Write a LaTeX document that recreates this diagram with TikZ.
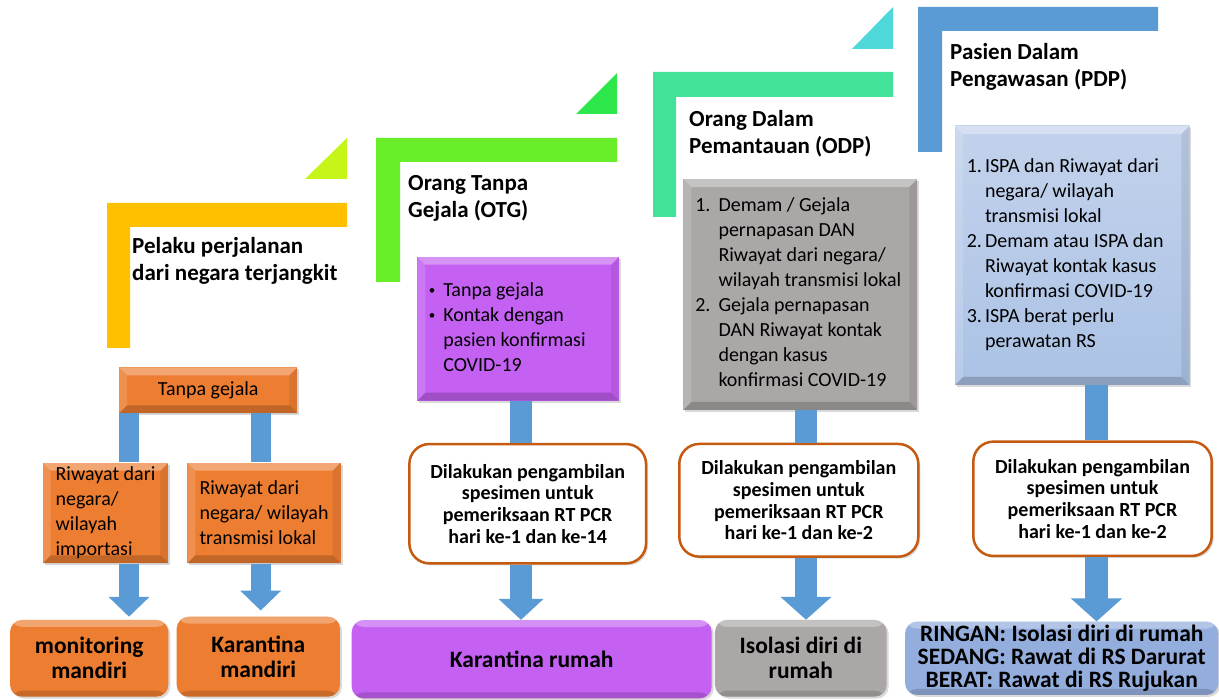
\documentclass[tikz,border=0pt]{standalone}
\usepackage{fontspec}
\setmainfont{Carlito}
\usetikzlibrary{arrows.meta,shadows}
\definecolor{cS1}{RGB}{255,192,0}
\definecolor{cT1}{RGB}{198,245,26}
\definecolor{cS2}{RGB}{104,238,40}
\definecolor{cT2}{RGB}{46,232,75}
\definecolor{cS3}{RGB}{67,226,155}
\definecolor{cT3}{RGB}{78,216,218}
\definecolor{cBl}{RGB}{91,155,213}
\definecolor{cOr}{RGB}{237,125,49}
\definecolor{cPu}{RGB}{196,96,242}
\definecolor{cGr}{RGB}{171,167,167}
\definecolor{cLb}{RGB}{180,199,231}
\definecolor{cDb}{RGB}{147,173,221}
\definecolor{cBr}{RGB}{197,90,17}
\newcommand{\smbul}{\raisebox{1.5pt}{\fontsize{13}{13}\selectfont\textbullet}}
\tikzset{
  bevel/.style={path picture={
    \fill[white,opacity=.32] (path picture bounding box.north west) -- (path picture bounding box.north east) -- ([shift={(-8,8)}]path picture bounding box.north east) -- ([shift={(8,8)}]path picture bounding box.north west) -- cycle;
    \fill[white,opacity=.15] (path picture bounding box.north west) -- ([shift={(8,8)}]path picture bounding box.north west) -- ([shift={(8,-8)}]path picture bounding box.south west) -- (path picture bounding box.south west) -- cycle;
    \fill[black,opacity=.08] (path picture bounding box.north east) -- ([shift={(-8,8)}]path picture bounding box.north east) -- ([shift={(-8,-8)}]path picture bounding box.south east) -- (path picture bounding box.south east) -- cycle;
    \fill[black,opacity=.18] (path picture bounding box.south west) -- (path picture bounding box.south east) -- ([shift={(-8,-8)}]path picture bounding box.south east) -- ([shift={(8,-8)}]path picture bounding box.south west) -- cycle;
  }},
  softbevel/.style={path picture={
    \fill[white,opacity=.30] (path picture bounding box.north west) rectangle ([shift={(0,7)}]path picture bounding box.north east);
    \fill[black,opacity=.15] ([shift={(0,-6)}]path picture bounding box.south west) rectangle (path picture bounding box.south east);
  }},
  shd/.style={drop shadow={opacity=.3,shadow xshift=2pt,shadow yshift=-2pt}},
  hd/.style={font=\bfseries\fontsize{23}{27}\selectfont, align=left, anchor=west, inner sep=0pt},
  bx/.style={shd, bevel, inner sep=0pt, align=left, font=\fontsize{20}{25}\selectfont},
  rbx/.style={shd, draw=cBr, line width=2.5pt, fill=white, rounded corners=20pt, inner sep=0pt, align=center, font=\bfseries\fontsize{20}{21.7}\selectfont},
  res/.style={shd, softbevel, rounded corners=12pt, inner sep=0pt, align=center, font=\bfseries\fontsize{23.5}{25}\selectfont},
  shaft/.style={draw=cBl, line width=#1},
  arr/.style n args={3}{draw=cBl, line width=#1, -{Triangle[width=#2,length=#3]}},
}
\begin{document}
\begin{tikzpicture}[x=1pt,y=-1pt]
\useasboundingbox (0,0) rectangle (1219,700);
% steps
\fill[cS1] (107,203) -- (347,203) -- (347,227) -- (130,227) -- (130,348) -- (107,348) -- cycle;
\fill[cT1] (347,138) -- (347,179) -- (305,179) -- cycle;
\fill[cS2] (376,138) -- (617,138) -- (617,162) -- (400,162) -- (400,282) -- (376,282) -- cycle;
\fill[cT2] (617,73) -- (617,114) -- (576,114) -- cycle;
\fill[cS3] (653,72) -- (893,72) -- (893,97) -- (676,97) -- (676,217) -- (653,217) -- cycle;
\fill[cT3] (893,7) -- (893,49) -- (852,49) -- cycle;
\fill[cBl] (918,7) -- (1158,7) -- (1158,31) -- (942,31) -- (942,152) -- (918,152) -- cycle;
% titles
\node[hd] (t1) at (132,260.5) {Pelaku perjalanan\\dari negara terjangkit};
\node[hd] (t2) at (408,198.5) {Orang Tanpa\\Gejala (OTG)};
\node[hd] (t3) at (689,133.5) {Orang Dalam\\Pemantauan (ODP)};
\node[hd] (t4) at (950,66.5) {Pasien Dalam\\Pengawasan (PDP)};
% column 1
\node[bx, fill=cOr, minimum width=178.3pt, minimum height=46pt] (tg) at (208.2,390.3) {Tanpa gejala};
\node[bx, fill=cOr, minimum width=125.6pt, minimum height=100.6pt] (r1) at (105.5,513) {Riwayat dari\\negara/\\wilayah\\importasi};
\node[bx, fill=cOr, minimum width=153.4pt, minimum height=100.6pt] (r2) at (264,513) {Riwayat dari\\negara/ wilayah\\transmisi lokal};
\node[res, fill=cOr, minimum width=158.3pt, minimum height=76.7pt] (mm) at (89.2,658.3) {monitoring\\mandiri};
\node[res, fill=cOr, minimum width=163.3pt, minimum height=80pt] (km) at (258.3,656.7) {Karantina\\mandiri};
\coordinate (c1a) at (129,0);
\coordinate (c1b) at (260.7,0);
\draw[shaft=20pt] (tg.south -| c1a) -- (r1.north -| c1a);
\draw[shaft=20pt] (tg.south -| c1b) -- (r2.north -| c1b);
\draw[arr={20pt}{40pt}{20pt}] (r1.south -| c1a) -- ([yshift=3pt]mm.north -| c1a);
\draw[arr={20pt}{40pt}{20pt}] (r2.south -| c1b) -- ([yshift=6pt]km.north -| c1b);
% column 2
\node[bx, fill=cPu, minimum width=201.7pt, minimum height=144pt] (otg) at (518.2,328.7)
  {\begin{tabular}{@{}l@{\hspace{8pt}}l@{}}\smbul&Tanpa gejala\\\smbul&Kontak dengan\\&pasien konfirmasi\\&COVID-19\end{tabular}\hspace{22pt}};
\node[rbx, minimum width=236.7pt, minimum height=119.3pt] (d2) at (527.7,503.7)
  {Dilakukan pengambilan\\spesimen untuk\\pemeriksaan RT PCR\\hari ke-1 dan ke-14};
\node[res, fill=cPu, minimum width=360pt, minimum height=78.3pt] (kr) at (531.7,659.2) {Karantina rumah};
\coordinate (c2) at (521,0);
\draw[shaft=21.7pt] (otg.south -| c2) -- (d2.north -| c2);
\draw[arr={21.7pt}{44pt}{21pt}] (d2.south -| c2) -- (kr.north -| c2);
% column 3
\node[bx, fill=cGr, minimum width=234pt, minimum height=231pt] (odp) at (800.3,294.5)
  {\begin{tabular}{@{}l@{\hspace{8pt}}l@{}}1.&Demam / Gejala\\&pernapasan DAN\\&Riwayat dari negara/\\&wilayah transmisi lokal\\2.&Gejala pernapasan\\&DAN Riwayat kontak\\&dengan kasus\\&konfirmasi COVID-19\end{tabular}\hspace{4pt}};
\node[rbx, minimum width=239pt, minimum height=112.7pt] (d3) at (798.8,500.3)
  {Dilakukan pengambilan\\spesimen untuk\\pemeriksaan RT PCR\\hari ke-1 dan ke-2};
\node[res, fill=cGr, minimum width=171.7pt, minimum height=76.7pt] (iso) at (800.8,658.3) {Isolasi diri di\\rumah};
\coordinate (c3) at (806,0);
\draw[shaft=22pt] (odp.south -| c3) -- (d3.north -| c3);
\draw[arr={22pt}{50pt}{23pt}] (d3.south -| c3) -- (iso.north -| c3);
% column 4
\node[bx, top color=cLb!80!white, bottom color=cLb!90!cBl, minimum width=234.3pt, minimum height=259pt] (pdp) at (1072.2,255.5)
  {\begin{tabular}{@{}l@{\hspace{3pt}}l@{}}1.&ISPA dan Riwayat dari\\&negara/ wilayah\\&transmisi lokal\\2.&Demam atau ISPA dan\\&Riwayat kontak kasus\\&konfirmasi COVID-19\\3.&ISPA berat perlu\\&perawatan RS\end{tabular}\hspace{14pt}};
\node[rbx, minimum width=238.4pt, minimum height=114.3pt] (d4) at (1092.5,498.8)
  {Dilakukan pengambilan\\spesimen untuk\\pemeriksaan RT PCR\\hari ke-1 dan ke-2};
\node[res, fill=cDb, font=\bfseries\fontsize{23.5}{23.3}\selectfont, minimum width=313.3pt, minimum height=73.3pt] (ber) at (1061.7,658.3)
  {RINGAN: Isolasi diri di rumah\\SEDANG: Rawat di RS Darurat\\BERAT: Rawat di RS Rujukan};
\coordinate (c4) at (1096.5,0);
\draw[shaft=23pt] (pdp.south -| c4) -- (d4.north -| c4);
\draw[arr={23pt}{50pt}{23pt}] (d4.south -| c4) -- (ber.north -| c4);
\end{tikzpicture}
\end{document}
